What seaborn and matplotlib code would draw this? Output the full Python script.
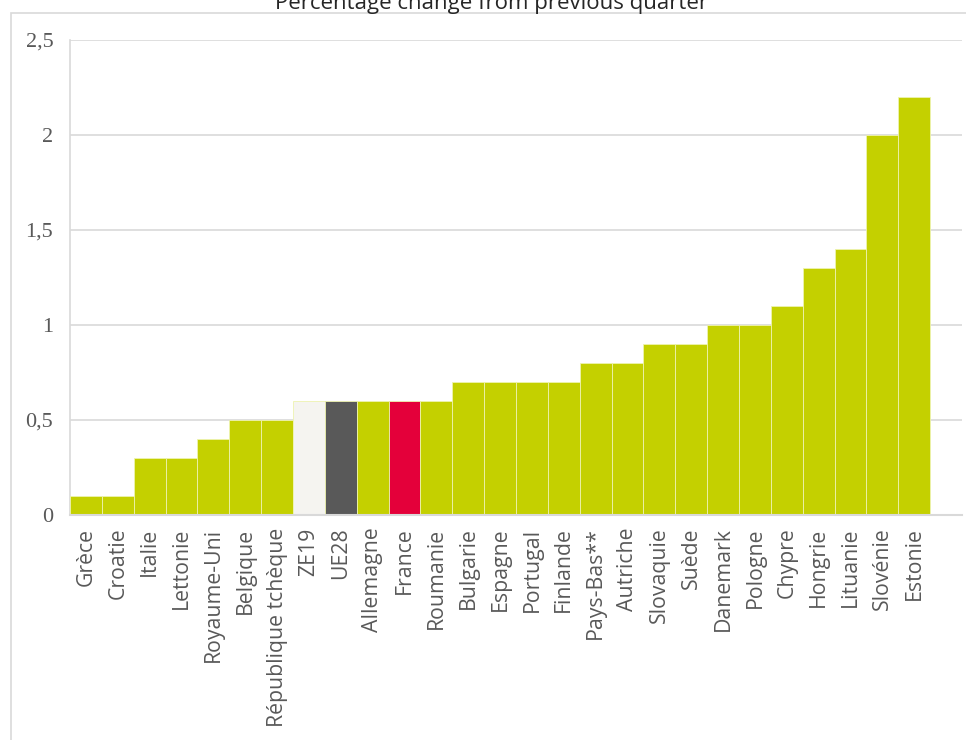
import matplotlib
matplotlib.use("Agg")
import matplotlib.pyplot as plt
import seaborn as sns
import pandas as pd
from matplotlib.patches import Rectangle

countries = ["Grèce", "Croatie", "Italie", "Lettonie", "Royaume-Uni", "Belgique",
             "République tchèque", "ZE19", "UE28", "Allemagne", "France", "Roumanie",
             "Bulgarie", "Espagne", "Portugal", "Finlande", "Pays-Bas**", "Autriche",
             "Slovaquie", "Suède", "Danemark", "Pologne", "Chypre", "Hongrie",
             "Lituanie", "Slovénie", "Estonie"]
growth = [0.1, 0.1, 0.3, 0.3, 0.4, 0.5, 0.5, 0.6, 0.6, 0.6, 0.6, 0.6,
          0.7, 0.7, 0.7, 0.7, 0.8, 0.8, 0.9, 0.9, 1.0, 1.0, 1.1, 1.3,
          1.4, 2.0, 2.2]
yticks = [0, 0.5, 1, 1.5, 2, 2.5]
ytick_labels = ["0", "0,5", "1", "1,5", "2", "2,5"]

GREEN = "#C4D000"
special = {"ZE19": "#F5F4F0", "UE28": "#595959", "France": "#E4003A"}
palette = [special.get(c, GREEN) for c in countries]

df = pd.DataFrame({"pays": countries, "variation": growth})

sns.set_theme(style="white")
plt.rcParams["font.family"] = ["Open Sans", "DejaVu Sans"]

fig = plt.figure(figsize=(9.66, 7.4), dpi=100)
W, H = 966, 740
ax = fig.add_axes([70 / W, 1 - 515 / H, 892 / W, 475 / H])

sns.barplot(data=df, x="pays", y="variation", hue="pays", palette=palette,
            legend=False, width=1.0, saturation=1, edgecolor="#EEF3B0",
            linewidth=0.6, ax=ax, zorder=3)

ax.set_xlim(-0.5, len(countries) + 0.5)
ax.set_ylim(0, 2.5)
ax.set_yticks(yticks)
ax.set_yticklabels(ytick_labels, family="Liberation Serif", fontsize=16,
                   color="#595959")
ax.tick_params(axis="y", length=0, pad=12)
ax.tick_params(axis="x", length=0, pad=9)
for lab in ax.get_xticklabels():
    lab.set_rotation(90)
    lab.set_fontsize(15.3)
    lab.set_color("#595959")
    lab.set_ha("center")
    lab.set_va("top")

ax.yaxis.grid(True, color="#D9D9D9", linewidth=1.2, zorder=0)
ax.set_axisbelow(True)
for side in ["top", "right"]:
    ax.spines[side].set_visible(False)
ax.spines["left"].set_color("#D9D9D9")
ax.spines["left"].set_linewidth(1.2)
ax.spines["bottom"].set_color("#D9D9D9")
ax.spines["bottom"].set_linewidth(1.5)
ax.spines["bottom"].set_zorder(4)
ax.set_xlabel("")
ax.set_ylabel("")

# outer chart frame
fig.patches.append(Rectangle((11 / W, -0.01), 1.0, 1 - 13 / H + 0.01,
                             transform=fig.transFigure, fill=False,
                             edgecolor="#D9D9D9", linewidth=1.2))

fig.text(492 / W, 1 - 9 / H, "Percentage change from previous quarter",
         ha="center", va="baseline", fontsize=16, color="#262626")

fig.savefig("out.png", dpi=100, facecolor="white")
